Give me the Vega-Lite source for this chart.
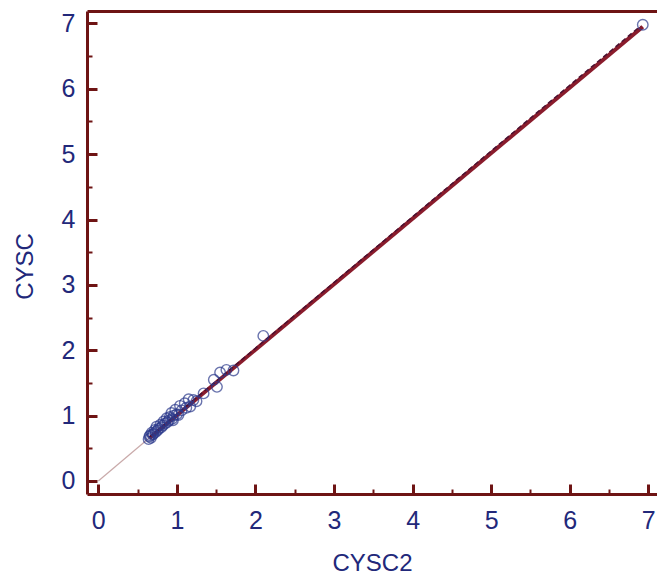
{
  "$schema": "https://vega.github.io/schema/vega-lite/v6.json",
  "autosize": "none",
  "width": 570,
  "height": 483,
  "padding": {"left": 87, "top": 11, "right": 0, "bottom": 84},
  "background": "white",
  "config": {"view": {"stroke": null}},
  "datasets": {
    "pts": [
      {"CYSC2": 0.64, "CYSC": 0.64}, {"CYSC2": 0.65, "CYSC": 0.68}, {"CYSC2": 0.66, "CYSC": 0.70},
      {"CYSC2": 0.67, "CYSC": 0.66}, {"CYSC2": 0.68, "CYSC": 0.74}, {"CYSC2": 0.69, "CYSC": 0.71},
      {"CYSC2": 0.70, "CYSC": 0.72}, {"CYSC2": 0.72, "CYSC": 0.78}, {"CYSC2": 0.73, "CYSC": 0.75},
      {"CYSC2": 0.74, "CYSC": 0.83}, {"CYSC2": 0.75, "CYSC": 0.77}, {"CYSC2": 0.77, "CYSC": 0.80},
      {"CYSC2": 0.79, "CYSC": 0.86}, {"CYSC2": 0.80, "CYSC": 0.82}, {"CYSC2": 0.82, "CYSC": 0.85},
      {"CYSC2": 0.83, "CYSC": 0.91}, {"CYSC2": 0.85, "CYSC": 0.88}, {"CYSC2": 0.87, "CYSC": 0.96},
      {"CYSC2": 0.88, "CYSC": 0.90}, {"CYSC2": 0.90, "CYSC": 0.93}, {"CYSC2": 0.91, "CYSC": 0.98},
      {"CYSC2": 0.93, "CYSC": 1.04}, {"CYSC2": 0.94, "CYSC": 0.95}, {"CYSC2": 0.95, "CYSC": 0.93},
      {"CYSC2": 0.96, "CYSC": 1.00}, {"CYSC2": 0.98, "CYSC": 1.09}, {"CYSC2": 1.00, "CYSC": 1.02},
      {"CYSC2": 1.02, "CYSC": 1.01}, {"CYSC2": 1.04, "CYSC": 1.15}, {"CYSC2": 1.06, "CYSC": 1.08},
      {"CYSC2": 1.10, "CYSC": 1.19}, {"CYSC2": 1.12, "CYSC": 1.12}, {"CYSC2": 1.15, "CYSC": 1.25},
      {"CYSC2": 1.17, "CYSC": 1.14}, {"CYSC2": 1.21, "CYSC": 1.24}, {"CYSC2": 1.25, "CYSC": 1.22},
      {"CYSC2": 1.34, "CYSC": 1.34}, {"CYSC2": 1.47, "CYSC": 1.55}, {"CYSC2": 1.51, "CYSC": 1.44},
      {"CYSC2": 1.55, "CYSC": 1.66}, {"CYSC2": 1.63, "CYSC": 1.70}, {"CYSC2": 1.72, "CYSC": 1.69},
      {"CYSC2": 2.10, "CYSC": 2.22}, {"CYSC2": 6.93, "CYSC": 6.98}
    ],
    "thin": [{"CYSC2": 0, "CYSC": 0}, {"CYSC2": 0.7, "CYSC": 0.71}],
    "fit": [{"CYSC2": 0.65, "CYSC": 0.655}, {"CYSC2": 6.93, "CYSC": 6.95}],
    "ident": [{"CYSC2": 0.65, "CYSC": 0.67}, {"CYSC2": 6.9, "CYSC": 6.96}]
  },
  "resolve": {"axis": {"x": "independent", "y": "independent"}},
  "layer": [
    {
      "data": {"name": "thin"},
      "mark": {"type": "line", "color": "#c9a9a9", "strokeWidth": 1.2},
      "encoding": {
        "x": {"field": "CYSC2", "type": "quantitative",
              "scale": {"domain": [-0.144, 7.111], "nice": false, "zero": false},
              "axis": {"orient": "bottom", "values": [0.5, 1.5, 2.5, 3.5, 4.5, 5.5, 6.5], "labels": false, "domain": false, "grid": false, "title": null, "tickSize": -5, "tickWidth": 2, "tickColor": "#6e1414"}},
        "y": {"field": "CYSC", "type": "quantitative",
              "scale": {"domain": [-0.199, 7.19], "nice": false, "zero": false},
              "axis": {"orient": "left", "values": [0.5, 1.5, 2.5, 3.5, 4.5, 5.5, 6.5], "labels": false, "domain": false, "grid": false, "title": null, "tickSize": -5, "tickWidth": 2, "tickColor": "#6e1414"}}
      }
    },
    {
      "data": {"name": "fit"},
      "mark": {"type": "line", "color": "#8a1c2c", "strokeWidth": 4},
      "encoding": {
        "x": {"field": "CYSC2", "type": "quantitative",
              "axis": {"orient": "top", "labels": false, "ticks": false, "grid": false, "title": null, "domainColor": "#6e1414", "domainWidth": 3}},
        "y": {"field": "CYSC", "type": "quantitative", "axis": null}
      }
    },
    {
      "data": {"name": "ident"},
      "mark": {"type": "line", "color": "#4a1030", "strokeWidth": 1.5, "strokeDash": [5, 3]},
      "encoding": {
        "x": {"field": "CYSC2", "type": "quantitative", "axis": null},
        "y": {"field": "CYSC", "type": "quantitative", "axis": null}
      }
    },
    {
      "data": {"name": "pts"},
      "mark": {"type": "point", "shape": "circle", "filled": false, "stroke": "#2c3a8c", "strokeWidth": 1.4, "size": 110},
      "encoding": {
        "x": {"field": "CYSC2", "type": "quantitative",
              "axis": {"orient": "bottom", "values": [0, 1, 2, 3, 4, 5, 6, 7], "grid": false, "tickSize": -10, "tickWidth": 3, "tickColor": "#6e1414",
                       "domainColor": "#6e1414", "domainWidth": 3,
                       "labelFont": "Liberation Sans", "labelFontSize": 25, "labelColor": "#22287a", "labelPadding": 24,
                       "title": "CYSC2", "titleFont": "Liberation Sans", "titleFontSize": 24, "titleFontWeight": "normal", "titleColor": "#22287a",
                       "titleX": 285, "titleY": 69, "titleBaseline": "middle", "titleAlign": "center"}},
        "y": {"field": "CYSC", "type": "quantitative",
              "axis": {"orient": "left", "values": [0, 1, 2, 3, 4, 5, 6, 7], "grid": false, "tickSize": -10, "tickWidth": 3, "tickColor": "#6e1414",
                       "domainColor": "#6e1414", "domainWidth": 3,
                       "labelFont": "Liberation Sans", "labelFontSize": 25, "labelColor": "#22287a", "labelPadding": 22,
                       "title": "CYSC", "titleFont": "Liberation Sans", "titleFontSize": 24, "titleFontWeight": "normal", "titleColor": "#22287a",
                       "titleX": -62, "titleY": 255, "titleBaseline": "middle", "titleAlign": "center", "titleAngle": -90}}
      }
    }
  ]
}
